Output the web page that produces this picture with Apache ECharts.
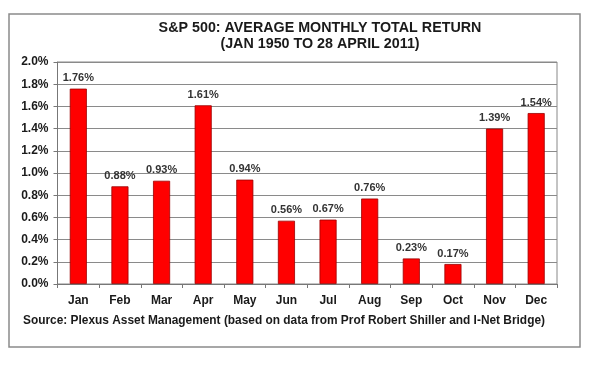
<!DOCTYPE html>
<html>
<head>
<meta charset="utf-8">
<script src="https://cdn.jsdelivr.net/npm/echarts@6/dist/echarts.min.js"></script>
<style>html,body{margin:0;padding:0;background:#fff}#c{width:600px;height:365px}</style>
</head>
<body>
<div id="c"></div>
<script>
var months = ['Jan','Feb','Mar','Apr','May','Jun','Jul','Aug','Sep','Oct','Nov','Dec'];
var returns = [1.76, 0.88, 0.93, 1.61, 0.94, 0.57, 0.58, 0.77, 0.23, 0.18, 1.40, 1.54];
var valueLabels = ['1.76%','0.88%','0.93%','1.61%','0.94%','0.56%','0.67%','0.76%','0.23%','0.17%','1.39%','1.54%'];
var yTicks = ['0.0%','0.2%','0.4%','0.6%','0.8%','1.0%','1.2%','1.4%','1.6%','1.8%','2.0%'];
var titleText = 'S&P 500: AVERAGE MONTHLY TOTAL RETURN';
var subtitleText = '(JAN 1950 TO 28 APRIL 2011)';
var sourceText = 'Source: Plexus Asset Management (based on data from Prof Robert Shiller and I-Net Bridge)';

var font = '"Liberation Sans", Arial, sans-serif';
var chart = echarts.init(document.getElementById('c'), null, {renderer: 'canvas'});
chart.setOption({
  animation: false,
  backgroundColor: '#fff',
  graphic: [
    {type: 'rect', shape: {x: 9, y: 14, width: 571, height: 333}, style: {fill: 'none', stroke: '#8a8a8a', lineWidth: 1.5}, z: 0},
    {type: 'text', x: 320, y: 21, style: {text: titleText, textAlign: 'center', font: 'bold 14.3px ' + font, fill: '#1a1a1a'}},
    {type: 'text', x: 320, y: 37, style: {text: subtitleText, textAlign: 'center', font: 'bold 14.3px ' + font, fill: '#1a1a1a'}},
    {type: 'text', left: 23, top: 315, style: {text: sourceText, font: 'bold 11.9px ' + font, fill: '#1a1a1a'}}
  ],
  grid: {left: 57.5, right: 43, top: 62, bottom: 81, show: true, borderColor: '#888', borderWidth: 1},
  xAxis: {
    type: 'category',
    data: months,
    axisLine: {lineStyle: {color: '#777'}},
    axisTick: {show: true, length: 4, alignWithLabel: false, lineStyle: {color: '#777'}},
    axisLabel: {margin: 11, color: '#1a1a1a', fontWeight: 'bold', fontSize: 12, fontFamily: font}
  },
  yAxis: {
    type: 'value',
    min: 0, max: 2.0, interval: 0.2,
    axisLine: {show: true, lineStyle: {color: '#777'}},
    axisTick: {show: true, length: 4, lineStyle: {color: '#777'}},
    splitLine: {lineStyle: {color: '#8a8a8a', width: 1}},
    axisLabel: {
      margin: 9, color: '#1a1a1a', fontWeight: 'bold', fontSize: 12, fontFamily: font,
      formatter: function (v) { return yTicks[Math.round(v / 0.2)]; }
    }
  },
  series: [{
    type: 'bar',
    data: returns,
    barWidth: '41%',
    itemStyle: {color: '#ff0000', borderColor: '#9b0000', borderWidth: 0.8},
    label: {
      show: true, position: 'top', distance: 5,
      color: '#333', fontWeight: 'bold', fontSize: 11, fontFamily: font,
      formatter: function (p) { return valueLabels[p.dataIndex]; }
    }
  }]
});
</script>
</body>
</html>
